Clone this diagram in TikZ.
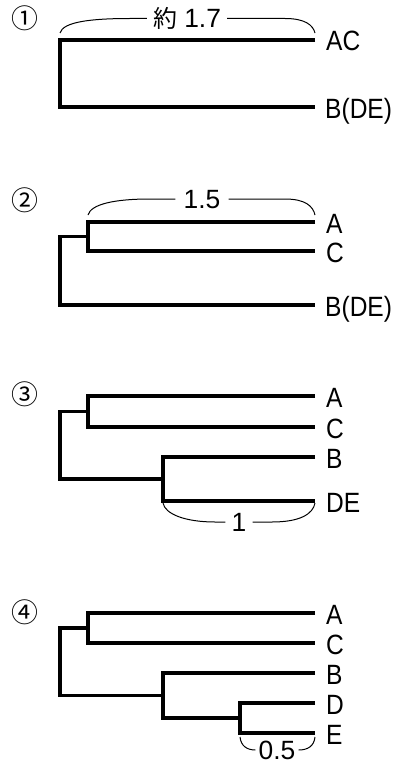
\documentclass[tikz,border=0pt]{standalone}
\usepackage{fontspec}
\setmainfont{Liberation Sans}
\newfontfamily\lblfont[FakeStretch=0.88]{Liberation Sans}
\newfontfamily\jpfont{Noto Sans CJK JP}
\begin{document}
\begin{tikzpicture}[x=1bp,y=-1bp,
  tree/.style={line width=3.1bp},
  brc/.style={line width=1bp},
  leaf/.style={anchor=west,inner sep=0pt,font=\lblfont\fontsize{28}{28}\selectfont,text height=20bp,text depth=0pt},
  num/.style={inner ysep=0pt,font=\fontsize{26.5}{26.5}\selectfont,text height=19bp,text depth=0pt},
  circ/.style={inner sep=0pt,font=\jpfont\fontsize{27}{27}\selectfont}]
\fill[white] (0,0) rectangle (393,764);
\useasboundingbox (0,0) rectangle (393,764);

% ---------- panel 1 ----------
\node[circ] (c1) at (25,18) {①};
\coordinate (p1AC) at (315,40);
\coordinate (p1B) at (315,107);
\coordinate (p1n) at (60,73.5);
\draw[tree] (p1AC) -| (p1n) |- (p1B);
\node[leaf] (t1AC) at (326,41) {AC};
\node[leaf] (t1B) at (325,108) {B(DE)};
\coordinate (b1l) at (60,33);
\coordinate (b1r) at (315,33);
\node[num,inner xsep=6bp] (l1) at (187,18.5) {{\jpfont\fontsize{24}{24}\selectfont 約} 1.7};
\draw[brc] (b1l) .. controls (63,22) and (90,18.5) .. (130,18.5) -- (l1.west);
\draw[brc] (l1.east) -- (285,18.5) .. controls (305,18.5) and (313,25) .. (b1r);

% ---------- panel 2 ----------
\node[circ] (c2) at (25,200) {②};
\coordinate (p2A) at (315,222);
\coordinate (p2C) at (315,251);
\coordinate (p2B) at (315,305);
\coordinate (p2ac) at (88,236.5);
\coordinate (p2n) at (60,270);
\draw[tree] (p2A) -| (p2ac) |- (p2C);
\draw[tree] (p2ac) -| (p2n) |- (p2B);
\node[leaf] (t2A) at (326,223) {A};
\node[leaf] (t2C) at (326,252) {C};
\node[leaf] (t2B) at (325,306) {B(DE)};
\coordinate (b2l) at (88,215);
\coordinate (b2r) at (315,215);
\node[num,inner xsep=8bp] (l2) at (202,199) {1.5};
\draw[brc] (b2l) .. controls (91,204) and (115,199) .. (150,199) -- (l2.west);
\draw[brc] (l2.east) -- (285,199) .. controls (305,199) and (313,206) .. (b2r);

% ---------- panel 3 ----------
\node[circ] (c3) at (25,394) {③};
\coordinate (p3A) at (315,396);
\coordinate (p3C) at (315,427);
\coordinate (p3ac) at (88,411.5);
\coordinate (p3B) at (315,457);
\coordinate (p3DE) at (315,501);
\coordinate (p3bde) at (163,479);
\coordinate (p3n) at (60,445);
\draw[tree] (p3A) -| (p3ac) |- (p3C);
\draw[tree] (p3B) -| (p3bde) |- (p3DE);
\draw[tree] (p3ac) -| (p3n) |- (p3bde);
\node[leaf] (t3A) at (326,397) {A};
\node[leaf] (t3C) at (326,428) {C};
\node[leaf] (t3B) at (326,458) {B};
\node[leaf] (t3DE) at (326,502) {DE};
\coordinate (b3l) at (163,503);
\coordinate (b3r) at (315,503);
\node[num,inner xsep=6bp] (l3) at (239,522) {1};
\draw[brc] (b3l) .. controls (165,514) and (185,522) .. (215,522) -- (l3.west);
\draw[brc] (l3.east) -- (272,522) .. controls (300,522) and (313,514) .. (b3r);

% ---------- panel 4 ----------
\node[circ] (c4) at (25,612) {④};
\coordinate (p4A) at (315,613);
\coordinate (p4C) at (315,643);
\coordinate (p4ac) at (88,628);
\coordinate (p4B) at (315,673);
\coordinate (p4D) at (315,703);
\coordinate (p4E) at (315,733);
\coordinate (p4de) at (240,718);
\coordinate (p4bde) at (163,695.5);
\coordinate (p4n) at (60,662);
\draw[tree] (p4A) -| (p4ac) |- (p4C);
\draw[tree] (p4D) -| (p4de) |- (p4E);
\draw[tree] (p4B) -| (p4bde) |- (p4de);
\draw[tree] (p4ac) -| (p4n) |- (p4bde);
\node[leaf] (t4A) at (326,614) {A};
\node[leaf] (t4C) at (326,644) {C};
\node[leaf] (t4B) at (326,674) {B};
\node[leaf] (t4D) at (326,704) {D};
\node[leaf] (t4E) at (326,734) {E};
\coordinate (b4l) at (240,737);
\coordinate (b4r) at (315,737);
\node[num,inner xsep=3bp] (l4) at (277,750) {0.5};
\draw[brc] (b4l) .. controls (241,746) and (247,750) .. (l4.west);
\draw[brc] (l4.east) .. controls (308,750) and (314,746) .. (b4r);
\end{tikzpicture}
\end{document}
